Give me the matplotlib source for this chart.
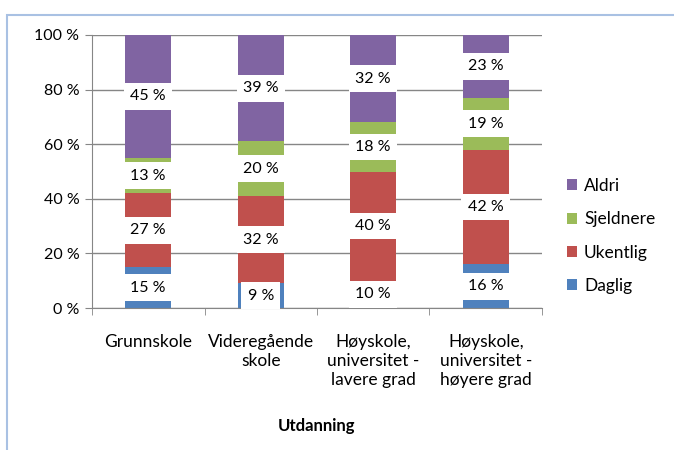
import matplotlib.pyplot as plt
import matplotlib.patches as mpatches
import numpy as np

plt.rcParams['font.family'] = ['Lato', 'DejaVu Sans']

kategorier = ["Grunnskole", "Videregående\nskole", "Høyskole,\nuniversitet -\nlavere grad",
              "Høyskole,\nuniversitet -\nhøyere grad"]
serier = ["Daglig", "Ukentlig", "Sjeldnere", "Aldri"]
daglig = [15, 9, 10, 16]
ukentlig = [27, 32, 40, 42]
sjeldnere = [13, 20, 18, 19]
aldri = [45, 39, 32, 23]
farger = ["#4F81BD", "#C0504D", "#9BBB59", "#8064A2"]

verdier = [daglig, ukentlig, sjeldnere, aldri]

fig = plt.figure(figsize=(6.74, 4.5), dpi=100)
ax = fig.add_axes([92/674, 1-308/450, 450/674, 273/450])

# ramme rundt diagrammet
fig.patches.append(mpatches.Rectangle((7/674, -0.1), 1.2, 1-15/450+0.1, transform=fig.transFigure,
                                      fill=False, edgecolor="#A9C1E3", linewidth=1.5))

x = np.arange(len(kategorier))
bunn = np.zeros(len(kategorier))
for navn, v, f in zip(serier, verdier, farger):
    ax.bar(x, v, 0.41, bottom=bunn, color=f, label=navn, zorder=2)
    for i in range(len(x)):
        ax.text(x[i], bunn[i] + v[i] / 2, "%d %%" % v[i], ha="center", va="center",
                fontsize=11.5, zorder=4,
                bbox=dict(boxstyle="square,pad=0.4", facecolor="white", edgecolor="none"))
    bunn += np.array(v)

ax.set_xlim(-0.5, 3.5)
ax.set_ylim(0, 100)
ax.set_yticks([0, 20, 40, 60, 80, 100])
ax.set_yticklabels(["%d %%" % t for t in [0, 20, 40, 60, 80, 100]], fontsize=11.5)
ax.yaxis.grid(True, color="#868686", linewidth=1, zorder=0)
ax.set_axisbelow(True)

ax.set_xticks(x)
ax.set_xticklabels(kategorier, fontsize=12.5, linespacing=1.2)
ax.tick_params(axis="x", length=0, pad=19)
ax.set_xticks(np.arange(-0.5, 4, 1), minor=True)
ax.tick_params(axis="x", which="minor", length=5, color="#868686")
ax.tick_params(axis="y", length=5, color="#868686", pad=4)

for s in ["top", "right"]:
    ax.spines[s].set_visible(False)
for s in ["left", "bottom"]:
    ax.spines[s].set_color("#868686")

ax.set_xlabel("Utdanning", fontsize=12, fontweight="bold", labelpad=22)

h, l = ax.get_legend_handles_labels()
ax.legend(h[::-1], l[::-1], loc="center left", bbox_to_anchor=(1.02, 0.264), frameon=False,
          fontsize=12.5, handlelength=0.6, handleheight=0.6, handletextpad=0.4, labelspacing=1.0)

fig.savefig("out.png", dpi=100)
